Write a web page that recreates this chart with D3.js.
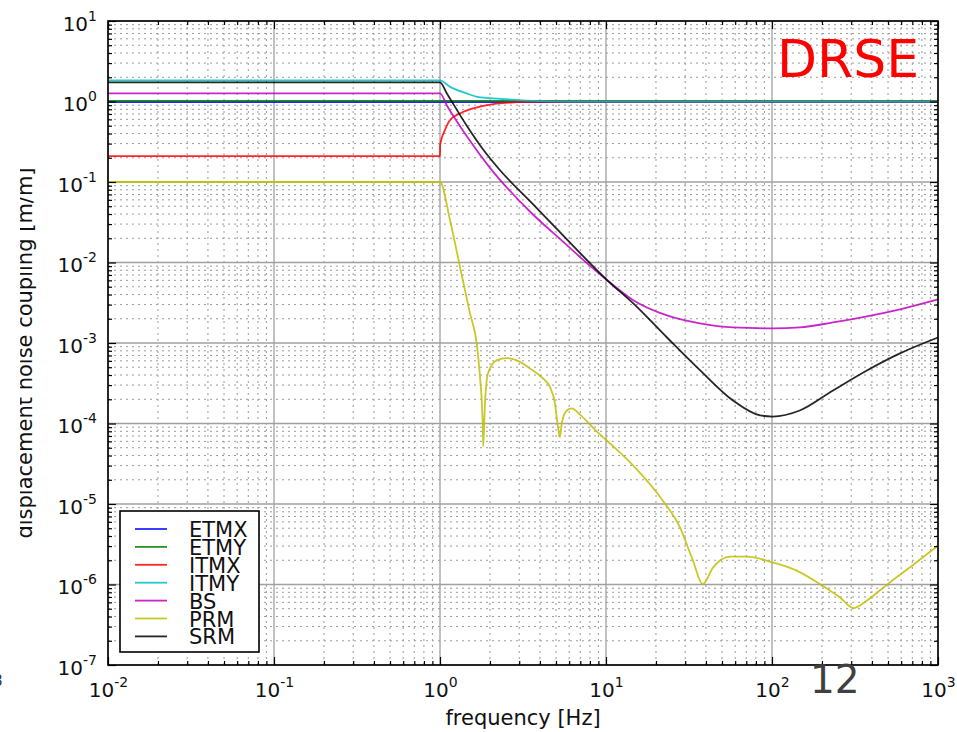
<!DOCTYPE html>
<html>
<head>
<meta charset="utf-8">
<script src="https://cdn.jsdelivr.net/npm/d3@7"></script>
<style>
  body { margin: 0; background: #fff; }
  text { font-family: "DejaVu Sans", sans-serif; }
</style>
</head>
<body>
<div id="chart"></div>
<script>
// chart size
const width = 957;
const height = 732;

// series data (frequency in Hz, coupling in m/m)
const names = ["ETMX", "ETMY", "ITMX", "ITMY", "BS", "PRM", "SRM"];
const colors = ["#0000ff", "#008000", "#ff0000", "#00bfbf", "#bf00bf", "#bfbf00", "#000000"];

const fETMX = [0.01, 1000];
const vETMX = [0.985, 0.985];
const fETMY = [0.01, 1000];
const vETMY = [1.02, 1.02];

const fITMX = [0.01, 1, 1.002, 1.07, 1.15, 1.32, 1.58, 2.09, 2.9, 4.5, 1000];
const vITMX = [0.21, 0.21, 0.29, 0.44, 0.59, 0.71, 0.82, 0.93, 0.98, 1.0, 1.0];

const fITMY = [0.01, 1, 1.15, 1.45, 1.68, 2.3, 3.6, 6, 1000];
const vITMY = [1.83, 1.83, 1.52, 1.26, 1.14, 1.08, 1.02, 1.0, 1.0];

const fBS = [0.01, 1, 1.1, 1.25, 1.45, 2.0, 3.48, 5.53, 7.64, 10.1, 14.6, 23.3, 36.8, 58.2, 101, 147, 233, 373, 590, 1000];
const vBS = [1.26, 1.26, 0.893, 0.586, 0.37, 0.15, 0.043, 0.018, 0.0099, 0.0061, 0.0034, 0.0022, 0.00175, 0.00156, 0.00152, 0.00156, 0.0018, 0.00214, 0.00262, 0.00348];

const fPRM = [0.01, 1, 1.149, 1.32, 1.516, 1.664, 1.742, 1.808, 1.821, 1.866, 1.945, 2.19, 2.52, 2.9, 3.48, 4.17, 4.6, 4.93, 5.14, 5.28, 5.41, 5.8, 6.21, 6.97, 8.79, 10.1, 14.6, 22.0, 27.9, 33.4, 38.2, 44.2, 55.8, 70.4, 101, 141, 195, 257, 309, 372, 491, 710, 1000];
const vPRM = [0.1, 0.1, 0.0335, 0.00879, 0.00233, 9.9e-4, 3.77e-4, 1.0e-4, 5.2e-5, 1.77e-4, 4.19e-4, 6.08e-4, 6.49e-4, 6.08e-4, 4.84e-4, 3.63e-4, 2.83e-4, 1.77e-4, 8.9e-5, 6.8e-5, 1.0e-4, 1.45e-4, 1.54e-4, 1.29e-4, 8.0e-5, 6.15e-5, 3.0e-5, 1.1e-5, 5.13e-6, 1.98e-6, 1.01e-6, 1.63e-6, 2.22e-6, 2.22e-6, 1.88e-6, 1.49e-6, 1.01e-6, 6.9e-7, 5.1e-7, 6.3e-7, 9.9e-7, 1.76e-6, 3.04e-6];

const fSRM = [0.01, 1, 1.1, 1.45, 1.8, 2.3, 3.63, 5.0, 7.65, 10.1, 14.6, 23.3, 36.8, 58.2, 84.7, 101, 147, 233, 373, 590, 1000];
const vSRM = [1.73, 1.73, 1.26, 0.5, 0.261, 0.14, 0.053, 0.0267, 0.0108, 0.0061, 0.0031, 0.00117, 4.6e-4, 1.93e-4, 1.26e-4, 1.22e-4, 1.45e-4, 2.57e-4, 4.56e-4, 7.43e-4, 1.17e-3];

const freqs = [fETMX, fETMY, fITMX, fITMY, fBS, fPRM, fSRM];
const vals = [vETMX, vETMY, vITMX, vITMY, vBS, vPRM, vSRM];

// tick values
const xMajor = [1e-2, 1e-1, 1e0, 1e1, 1e2, 1e3];
const xExp = ["-2", "-1", "0", "1", "2", "3"];
const yMajor = [1e-7, 1e-6, 1e-5, 1e-4, 1e-3, 1e-2, 1e-1, 1e0, 1e1];
const yExp = ["-7", "-6", "-5", "-4", "-3", "-2", "-1", "0", "1"];

const xMinor = [];
for (let d = -2; d < 3; d++) for (let k = 2; k < 10; k++) xMinor.push(k * Math.pow(10, d));
const yMinor = [];
for (let d = -7; d < 1; d++) for (let k = 2; k < 10; k++) yMinor.push(k * Math.pow(10, d));

const pLeft = 108, pRight = 938, pTop = 21, pBottom = 665;

const svg = d3.select("#chart")
    .append("svg")
    .attr("width", width)
    .attr("height", height);

const x = d3.scaleLog().domain([1e-2, 1e3]).range([pLeft, pRight]);
const y = d3.scaleLog().domain([1e-7, 1e1]).range([pBottom, pTop]);

// grid
const grid = svg.append("g");
grid.selectAll(".gxm").data(xMinor).enter().append("line")
    .attr("x1", d => x(d)).attr("x2", d => x(d))
    .attr("y1", pTop).attr("y2", pBottom)
    .attr("stroke", "#9a9a9a").attr("stroke-width", 1).attr("stroke-dasharray", "2,4");
grid.selectAll(".gym").data(yMinor).enter().append("line")
    .attr("x1", pLeft).attr("x2", pRight)
    .attr("y1", d => y(d)).attr("y2", d => y(d))
    .attr("stroke", "#9a9a9a").attr("stroke-width", 1).attr("stroke-dasharray", "2,4");
grid.selectAll(".gx").data(xMajor).enter().append("line")
    .attr("x1", d => x(d)).attr("x2", d => x(d))
    .attr("y1", pTop).attr("y2", pBottom)
    .attr("stroke", "#a0a0a0").attr("stroke-width", 1.3);
grid.selectAll(".gy").data(yMajor).enter().append("line")
    .attr("x1", pLeft).attr("x2", pRight)
    .attr("y1", d => y(d)).attr("y2", d => y(d))
    .attr("stroke", "#a0a0a0").attr("stroke-width", 1.3);

// curves
const line = d3.line()
    .x(d => x(d[0]))
    .y(d => y(d[1]))
    .curve(d3.curveMonotoneX);

const plot = svg.append("g");
names.forEach((n, i) => {
    const pts = freqs[i].map((f, j) => [f, vals[i][j]]);
    plot.append("path")
        .attr("d", line(pts))
        .attr("fill", "none")
        .attr("stroke", colors[i])
        .attr("stroke-width", 1.8)
        .attr("stroke-opacity", 0.85);
});

// axes (ticks point inward)
function styleAxis(g) {
    g.select(".domain").remove();
    g.selectAll(".tick line").attr("stroke", "#000").attr("stroke-width", 1.2);
}
svg.append("g").attr("transform", `translate(0,${pBottom})`)
    .call(d3.axisBottom(x).tickValues(xMinor).tickSize(-4).tickFormat("")).call(styleAxis);
svg.append("g").attr("transform", `translate(0,${pTop})`)
    .call(d3.axisTop(x).tickValues(xMinor).tickSize(-4).tickFormat("")).call(styleAxis);
svg.append("g").attr("transform", `translate(${pLeft},0)`)
    .call(d3.axisLeft(y).tickValues(yMinor).tickSize(-4).tickFormat("")).call(styleAxis);
svg.append("g").attr("transform", `translate(${pRight},0)`)
    .call(d3.axisRight(y).tickValues(yMinor).tickSize(-4).tickFormat("")).call(styleAxis);

const xAxis = svg.append("g").attr("transform", `translate(0,${pBottom})`)
    .call(d3.axisBottom(x).tickValues(xMajor).tickSize(-8).tickFormat("")).call(styleAxis);
svg.append("g").attr("transform", `translate(0,${pTop})`)
    .call(d3.axisTop(x).tickValues(xMajor).tickSize(-8).tickFormat("")).call(styleAxis);
const yAxis = svg.append("g").attr("transform", `translate(${pLeft},0)`)
    .call(d3.axisLeft(y).tickValues(yMajor).tickSize(-8).tickFormat("")).call(styleAxis);
svg.append("g").attr("transform", `translate(${pRight},0)`)
    .call(d3.axisRight(y).tickValues(yMajor).tickSize(-8).tickFormat("")).call(styleAxis);

// tick labels as 10 with superscript
xAxis.selectAll(".tick").each(function(d, i) {
    const t = d3.select(this).append("text")
        .attr("y", 32).attr("fill", "#111")
        .attr("text-anchor", "middle").attr("font-size", 20);
    t.append("tspan").text("10");
    t.append("tspan").attr("dy", -10).attr("font-size", 14).text(xExp[i]);
});
yAxis.selectAll(".tick").each(function(d, i) {
    const t = d3.select(this).append("text")
        .attr("x", -11).attr("y", 9).attr("fill", "#111")
        .attr("text-anchor", "end").attr("font-size", 20);
    t.append("tspan").text("10");
    t.append("tspan").attr("dy", -10).attr("font-size", 14).text(yExp[i]);
});

// frame
svg.append("rect")
    .attr("x", pLeft).attr("y", pTop)
    .attr("width", pRight - pLeft).attr("height", pBottom - pTop)
    .attr("fill", "none").attr("stroke", "#000").attr("stroke-width", 1.6);

// axis titles
svg.append("text")
    .attr("x", (pLeft + pRight) / 2).attr("y", 725)
    .attr("text-anchor", "middle").attr("font-size", 21).attr("fill", "#111")
    .text("frequency [Hz]");

svg.append("clipPath").attr("id", "lclip")
    .append("rect").attr("x", 20).attr("y", 0).attr("width", 60).attr("height", height);
svg.append("g").attr("clip-path", "url(#lclip)")
    .append("text")
    .attr("transform", `translate(32,${(pTop + pBottom) / 2 + 10}) rotate(-90)`)
    .attr("text-anchor", "middle").attr("font-size", 21).attr("fill", "#111")
    .text("displacement noise coupling [m/m]");

// legend
const legend = svg.append("g");
legend.append("rect")
    .attr("x", 120).attr("y", 511).attr("width", 139).attr("height", 141)
    .attr("fill", "#fff").attr("stroke", "#000").attr("stroke-width", 1.6);
names.forEach((n, i) => {
    const ly = 529 + i * 17.9;
    legend.append("line")
        .attr("x1", 135).attr("x2", 167).attr("y1", ly).attr("y2", ly)
        .attr("stroke", colors[i]).attr("stroke-width", 1.8).attr("stroke-opacity", 0.85);
    legend.append("text")
        .attr("x", 189).attr("y", ly + 8)
        .attr("font-size", 21).attr("fill", "#111")
        .text(n);
});

// slide annotations
svg.append("text")
    .attr("x", 777).attr("y", 77)
    .attr("font-family", "'Liberation Sans', Arial, sans-serif")
    .attr("font-size", 52).attr("fill", "#ff0000")
    .text("DRSE");
svg.append("text")
    .attr("x", 810).attr("y", 693)
    .attr("font-family", "'Liberation Sans', Arial, sans-serif")
    .attr("font-size", 39).attr("fill", "#404040")
    .text("12");
svg.append("text")
    .attr("x", -7).attr("y", 686)
    .attr("font-size", 15).attr("fill", "#333")
    .text("8");
</script>
</body>
</html>
